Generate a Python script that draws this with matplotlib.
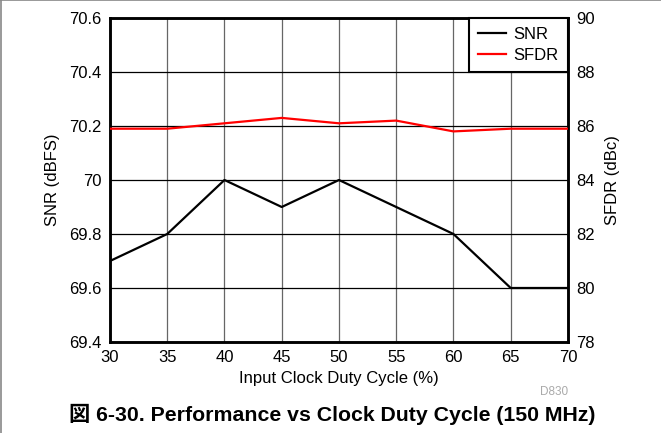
import numpy as np
import matplotlib.pyplot as plt
from matplotlib.lines import Line2D

duty = [30, 35, 40, 45, 50, 55, 60, 65, 70]
snr = [69.7, 69.8, 70.0, 69.9, 70.0, 69.9, 69.8, 69.6, 69.6]
sfdr = [85.9, 85.9, 86.1, 86.3, 86.1, 86.2, 85.8, 85.9, 85.9]

plt.rcParams['font.family'] = ['Liberation Sans', 'Noto Sans CJK JP']

fig = plt.figure(figsize=(6.61, 4.33), dpi=100)
ax = fig.add_axes([0.1664, 0.2102, 0.6928, 0.7482])
ax2 = ax.twinx()

# --- grid ---
ax.set_xlim(30, 70)
ax.set_ylim(69.4, 70.6)
ax.set_xticks(np.arange(30, 71, 5))
ax.set_yticks([69.4, 69.6, 69.8, 70.0, 70.2, 70.4, 70.6])
ax.set_yticklabels(['69.4', '69.6', '69.8', '70', '70.2', '70.4', '70.6'])
ax.xaxis.grid(True, color='#666666', linewidth=0.9)
ax.yaxis.grid(True, color='black', linewidth=0.9)
ax.set_axisbelow(True)

ax2.set_ylim(78, 90)
ax2.set_yticks(np.arange(78, 91, 2))

ax.plot(duty, snr, color='black', linewidth=1.6, zorder=3)
ax2.plot(duty, sfdr, color='red', linewidth=1.6, zorder=3)

for a in (ax, ax2):
    for s in a.spines.values():
        s.set_linewidth(1.8)
    a.tick_params(axis='both', labelsize=12, length=0, pad=6)

ax.set_xlabel('Input Clock Duty Cycle (%)', fontsize=12, labelpad=4)
ax.set_ylabel('SNR (dBFS)', fontsize=12, labelpad=7)
ax2.set_ylabel('SFDR (dBc)', fontsize=12, labelpad=7)

handles = [Line2D([], [], color='black', linewidth=1.6),
           Line2D([], [], color='red', linewidth=1.6)]
leg = ax2.legend(handles, ['SNR', 'SFDR'], loc='upper right', fontsize=12,
                 fancybox=False, framealpha=1, edgecolor='black',
                 borderaxespad=0, handlelength=1.7, handletextpad=0.45,
                 borderpad=0.55, labelspacing=0.35)
leg.get_frame().set_linewidth(1.5)

fig.text(0.859, 0.094, 'D830', color='#aaaaaa', fontsize=8.5, ha='right',
         va='center')
fig.text(0.503, 0.044, '図 6-30. Performance vs Clock Duty Cycle (150 MHz)',
         fontsize=15.3, fontweight='bold', ha='center', va='center')

# --- page frame ---
fig.add_artist(Line2D([0, 1], [0.999, 0.999], color='#888888', linewidth=1.2))
fig.add_artist(Line2D([0.001, 0.001], [0, 1], color='#888888', linewidth=1.2))

fig.savefig('out.png', dpi=100)
